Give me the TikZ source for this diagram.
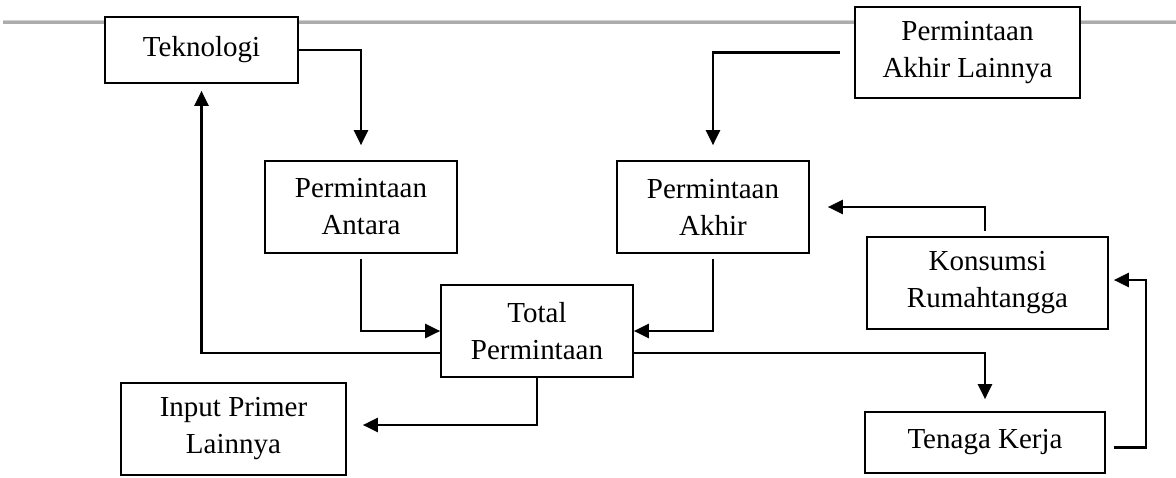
\documentclass[tikz,border=0pt]{standalone}
\usepackage{fontspec}
\setmainfont{Liberation Serif}
\usetikzlibrary{arrows.meta, positioning}

\begin{document}
\begin{tikzpicture}[x=1pt, y=-1pt, >={Triangle[length=15pt, width=14pt]},
    box/.style={draw, fill=white, line width=1.7pt, align=center, inner sep=0pt,
      font=\fontsize{29}{37}\selectfont},
    arr/.style={->, line width=2.3pt}]
  \useasboundingbox (0,0) rectangle (1176,477);
  \draw[gray!65, line width=3.6pt] (3,22) -- (1176,22);
  \draw[gray!35, line width=1pt] (3,20) -- (1176,20);

  \node[box, minimum width=193pt, minimum height=66pt] (tek) at (201.5,50) {Teknologi};
  \node[box, minimum width=225pt, minimum height=91pt] (lain) at (967.5,52.5) {Permintaan\\Akhir Lainnya};
  \node[box, minimum width=192pt, minimum height=92pt] (antara) at (361,207) {Permintaan\\Antara};
  \node[box, minimum width=192pt, minimum height=92pt] (akhir) at (713,207) {Permintaan\\Akhir};
  \node[box, minimum width=192pt, minimum height=92pt] (total) at (537,331) {Total\\Permintaan};
  \node[box, minimum width=225pt, minimum height=92pt] (input) at (233.5,429) {Input Primer\\Lainnya};
  \node[box, minimum width=241pt, minimum height=92pt] (konsumsi) at (987.5,283) {Konsumsi\\Rumahtangga};
  \node[box, minimum width=240pt, minimum height=61pt] (tenaga) at (985,442.5) {Tenaga Kerja};

  \draw[arr, shorten >=15pt] (tek.east) -| (antara.north);
  \draw[arr, shorten <=14pt, shorten >=15pt] (lain.west) -| (akhir.north);
  \draw[arr, shorten <=5pt] (antara.south) |- (total.west);
  \draw[arr, shorten <=5pt] (akhir.south) |- (total.east);
  \draw[arr, shorten >=7pt] ([yshift=-22pt]total.west) -| (tek.south);
  \draw[arr] (total.south) |- ([xshift=16pt, yshift=4pt]input.east);
  \draw[arr, shorten >=12pt] ([yshift=-22pt]total.east) -| (tenaga.north);
  \draw[arr, shorten <=8pt, shorten >=5pt] ([yshift=-5pt]tenaga.east) -| ([xshift=37pt, yshift=3pt]konsumsi.east) -- ([yshift=3pt]konsumsi.east);
  \draw[arr, shorten <=5pt, shorten >=18pt] ([xshift=-2.5pt]konsumsi.north) |- (akhir.east);
\end{tikzpicture}
\end{document}
